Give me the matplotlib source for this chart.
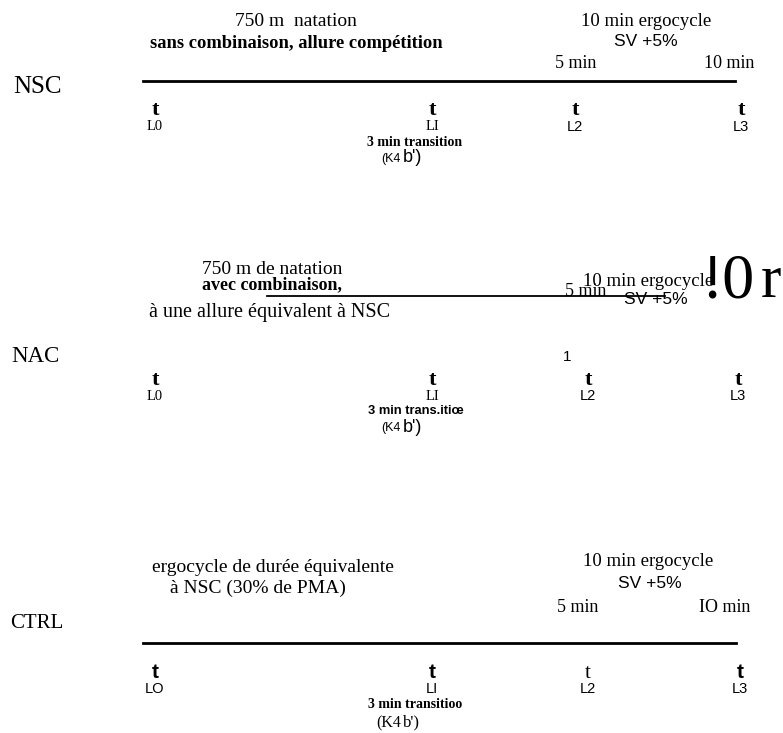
import matplotlib
matplotlib.use("Agg")
import matplotlib.pyplot as plt

W, H = 783, 733
groups = ["NSC", "NAC", "CTRL"]
time_labels = {
    "NSC": ["L0", "LI", "L2", "L3"],
    "NAC": ["L0", "LI", "L2", "L3"],
    "CTRL": ["LO", "LI", "L2", "L3"],
}
swim_title = {
    "NSC": "750 m  natation",
    "NAC": "750 m de natation",
    "CTRL": "ergocycle de durée équivalente",
}
swim_sub = {
    "NSC": "sans combinaison, allure compétition",
    "NAC": "avec combinaison,",
    "CTRL": "à NSC (30% de PMA)",
}
nac_extra = "à une allure équivalent à NSC"
nac_stray = ["!0", "r", "1"]
ergo_title = "10 min ergocycle"
ergo_sub = "SV +5%"
mid_labels = {"NSC": ["5 min", "10 min"], "NAC": ["5 min", ""], "CTRL": ["5 min", "IO min"]}
transition = {"NSC": "3 min transition", "NAC": "3 min trans.itiœ", "CTRL": "3 min transitioo"}
kb_left = {"NSC": "(K4", "NAC": "(K4", "CTRL": "(K4"}
kb_right = {"NSC": "b')", "NAC": "b')", "CTRL": "b')"}

SERIF = "Liberation Serif"
SANS = "Liberation Sans"

fig = plt.figure(figsize=(W / 100, H / 100), dpi=100)
ax = fig.add_axes([0, 0, 1, 1])
ax.set_xlim(0, W)
ax.set_ylim(H, 0)
ax.axis("off")


def T(x, y, s, size=11, fam=SERIF, weight="normal", ha="center", **kw):
    ax.text(x, y, s, fontsize=size, family=fam, weight=weight, ha=ha, va="center", **kw)


def kb(x, y, g, fam_left=SANS, fam_right=SANS, small=9, big=13):
    T(x, y + 1, kb_left[g], size=small, fam=fam_left, ha="right")
    T(x + 2, y, kb_right[g], size=big, fam=fam_right, ha="left")


# ---------- NSC ----------
g = "NSC"
T(37, 87, g, size=18)
T(296, 21, swim_title[g], size=14)
T(296, 44, swim_sub[g], size=13.3, weight="bold")
T(646, 21, ergo_title, size=13.5)
T(646, 42, ergo_sub, size=12.5, fam=SANS)
T(576, 63, mid_labels[g][0], size=13)
T(729, 63, mid_labels[g][1], size=13)
ax.plot([143, 735], [81, 81], color="black", lw=2)
tx = [155, 432, 575, 741]
for i, x in enumerate(tx):
    T(x, 110, "t", size=16, weight="bold")
    T(x, 127, time_labels[g][i], size=10.5, fam=SERIF if i < 2 else SANS)
T(415, 142, transition[g], size=10, weight="bold")
kb(401, 158, g)

# ---------- NAC ----------
g = "NAC"
T(35, 357, g, size=16.5)
T(202, 270, swim_title[g], size=14, ha="left")
T(202, 285, swim_sub[g], size=13, weight="bold", ha="left")
T(149, 312, nac_extra, size=14.5, ha="left")
ax.plot([267, 665], [296, 296], color="black", lw=1.3)
T(586, 291, mid_labels[g][0], size=13)
T(648, 282, ergo_title, size=13.5)
T(656, 300, ergo_sub, size=12.5, fam=SANS)
T(701, 282, nac_stray[0], size=46, ha="left")
T(761, 282, nac_stray[1], size=44, ha="left")
T(567, 357, nac_stray[2], size=11, fam=SANS)
tx = [155, 432, 588, 738]
for i, x in enumerate(tx):
    T(x, 380, "t", size=16, weight="bold")
    T(x, 396, time_labels[g][i], size=10.5, fam=SERIF if i < 2 else SANS)
T(416, 411, transition[g], size=9.3, fam=SANS, weight="bold")
kb(401, 427, g)

# ---------- CTRL ----------
g = "CTRL"
T(37, 623, g, size=15)
T(273, 568, swim_title[g], size=14)
T(258, 588, swim_sub[g], size=14)
T(648, 562, ergo_title, size=13.5)
T(650, 583, ergo_sub, size=12.5, fam=SANS)
T(578, 608, mid_labels[g][0], size=13)
T(725, 608, mid_labels[g][1], size=13)
ax.plot([143, 736], [643, 643], color="black", lw=2)
tx = [155, 432, 588, 740]
for i, x in enumerate(tx):
    T(x, 673, "t", size=15, fam=SANS if i != 2 else SERIF, weight="bold" if i != 2 else "normal")
    T(x, 689, time_labels[g][i], size=10.5, fam=SANS)
T(415, 705, transition[g], size=10, weight="bold")
kb(401, 722, g, fam_left=SERIF, fam_right=SERIF, small=11.5, big=12)

fig.savefig("out.png", dpi=100)
